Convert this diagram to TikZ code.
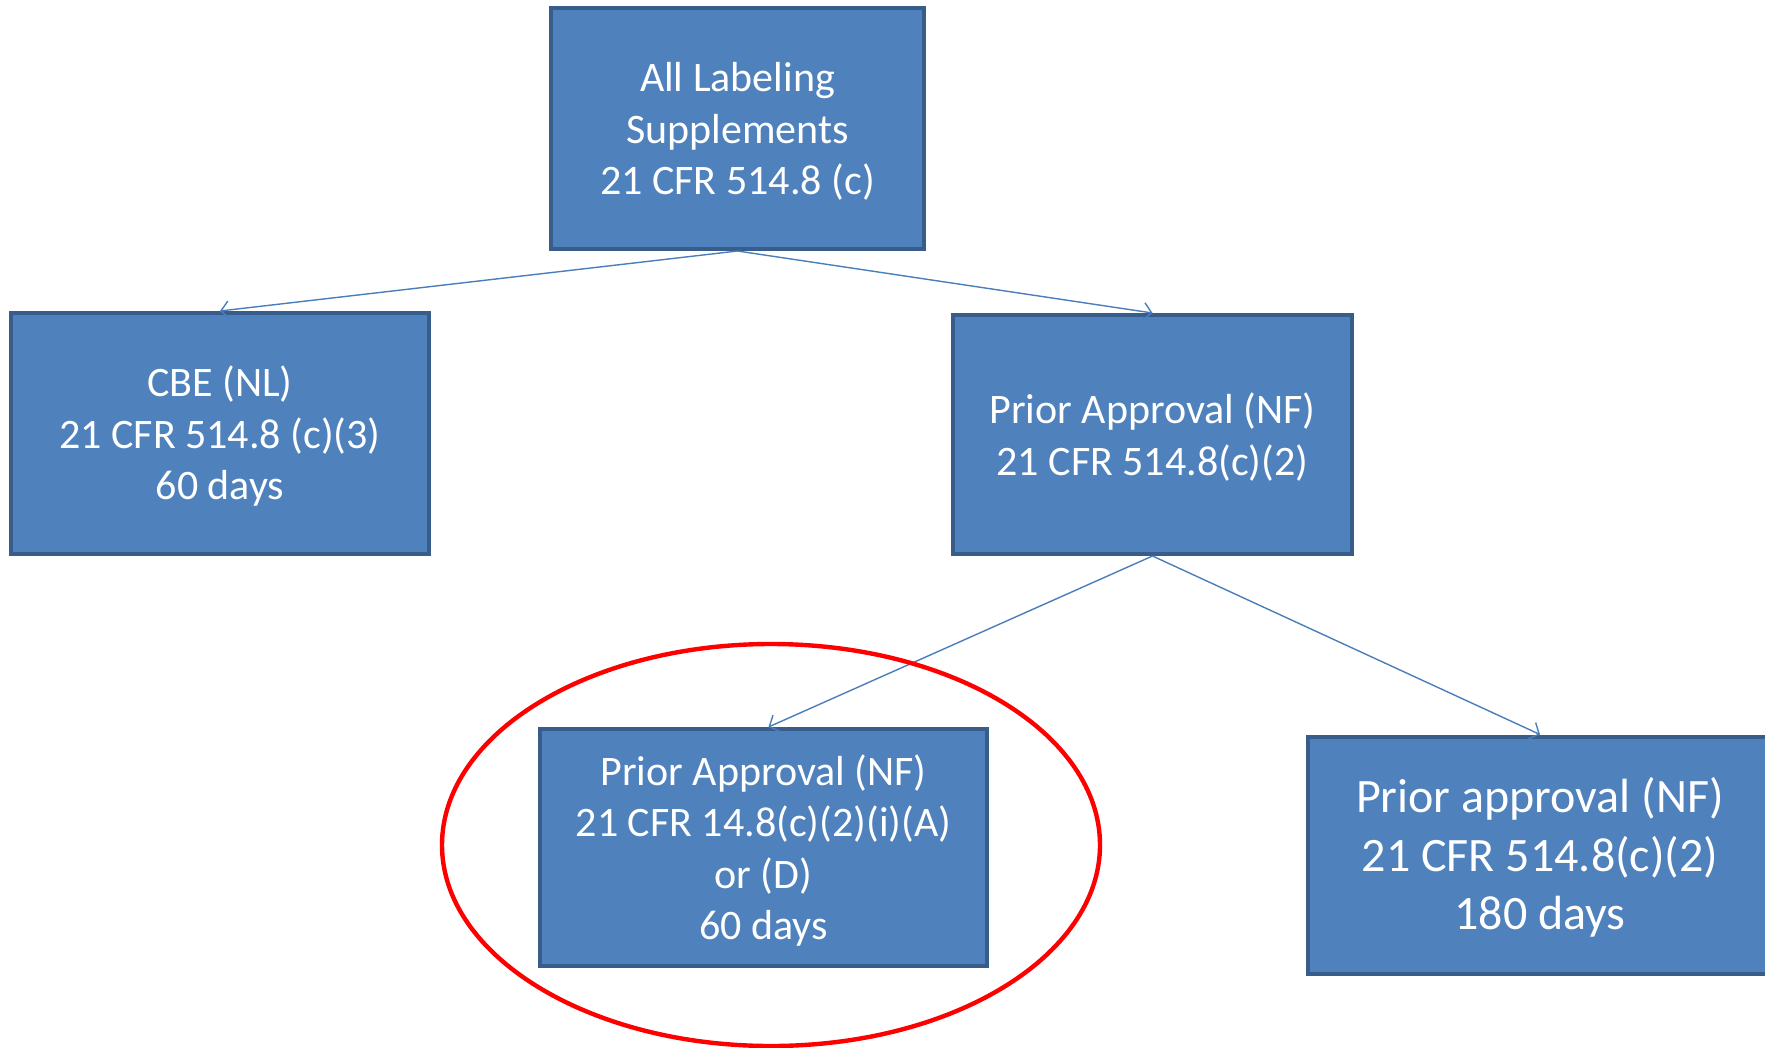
\documentclass[tikz,border=0pt]{standalone}
\usepackage{fontspec}
\setmainfont{Carlito}
\usetikzlibrary{arrows.meta}
\definecolor{boxfill}{HTML}{4F81BD}
\definecolor{boxline}{HTML}{385D8A}
\definecolor{conn}{HTML}{4A7EBB}
\newcommand{\lowtext}[1]{\raisebox{-2.3pt}[\height][\depth]{\begin{tabular}{@{}c@{}}#1\end{tabular}}}
\begin{document}
\begin{tikzpicture}[x=0.5pt,y=-0.5pt,
  bluebox/.style={rectangle, fill=boxfill, draw=boxline, line width=2pt,
    text=white, inner sep=0pt,
    font=\fontsize{21}{25.7}\selectfont},
  conector/.style={draw=conn, line width=0.7pt,
    -{Straight Barb[length=4pt,width=9pt]}}]
\useasboundingbox (0,0) rectangle (1765,1048);
\node[bluebox, minimum width=186.5pt, minimum height=120.5pt] (top) at (737.5,128.5)
  {\lowtext{All Labeling\\Supplements\\21 CFR 514.8 (c)}};
\node[bluebox, minimum width=209pt, minimum height=120.5pt] (cbe) at (220,433.5)
  {\lowtext{CBE (NL)\\21 CFR 514.8 (c)(3)\\60 days}};
\node[bluebox, minimum width=199.5pt, minimum height=119.5pt] (pa) at (1152.5,434.5)
  {\lowtext{Prior Approval (NF)\\21 CFR 514.8(c)(2)}};
\node[bluebox, minimum width=223.5pt, minimum height=118.5pt] (pal) at (763.5,847.5)
  {\lowtext{Prior Approval (NF)\\21 CFR 14.8(c)(2)(i)(A)\\or (D)\\60 days}};
\node[bluebox, minimum width=232pt, minimum height=118.5pt,
  font=\fontsize{24}{29.2}\selectfont] (par) at (1540,855)
  {\lowtext{Prior approval (NF)\\21 CFR 514.8(c)(2)\\180 days}};
\draw[conector] (top.south) -- (cbe.north);
\draw[conector] (top.south) -- (pa.north);
\draw[conector] (pa.south) -- ([xshift=2.5pt]pal.north);
\draw[conector] (pa.south) -- (par.north);
\draw[red, line width=2.2pt] (771,845) ellipse [x radius=164.5pt, y radius=100.5pt];
\end{tikzpicture}
\end{document}
